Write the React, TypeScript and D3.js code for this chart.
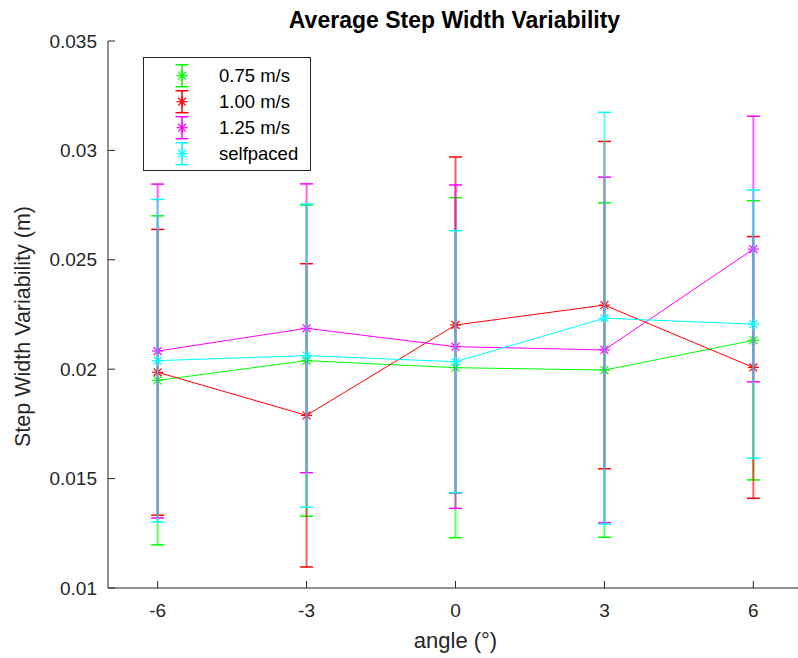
import React from "react";
import * as d3 from "d3";

const angles = [-6, -3, 0, 3, 6];
const seriesNames = ["0.75 m/s", "1.00 m/s", "1.25 m/s", "selfpaced"];
const seriesColors = ["#00ff00", "#ff0000", "#ff00ff", "#00ffff"];
const mean075 = [0.01949, 0.02039, 0.02007, 0.01996, 0.02132];
const err075 = [0.00752, 0.00711, 0.00777, 0.00764, 0.00638];
const mean100 = [0.01986, 0.01789, 0.02202, 0.02293, 0.02008];
const err100 = [0.00653, 0.00693, 0.00768, 0.00748, 0.00598];
const mean125 = [0.02083, 0.02187, 0.02103, 0.02088, 0.02549];
const err125 = [0.00763, 0.0066, 0.00739, 0.0079, 0.00607];
const meanSelf = [0.02039, 0.02062, 0.02034, 0.02233, 0.02206];
const errSelf = [0.00737, 0.00693, 0.00599, 0.00941, 0.00613];
const xTicks = [-6, -3, 0, 3, 6];
const yTicks = [0.01, 0.015, 0.02, 0.025, 0.03, 0.035];
const yTickLabels = ["0.01", "0.015", "0.02", "0.025", "0.03", "0.035"];

const means = [mean075, mean100, mean125, meanSelf];
const errs = [err075, err100, err125, errSelf];

const W = 798;
const H = 658;
const FONT = "'Liberation Sans', Arial, Helvetica, sans-serif";
const AX = "#262626";

function Asterisk({ cx, cy, r, color }: { cx: number; cy: number; r: number; color: string }) {
  const d = r * 0.72;
  return (
    <g stroke={color} strokeWidth={1.2}>
      <line x1={cx - r} y1={cy} x2={cx + r} y2={cy} />
      <line x1={cx} y1={cy - r} x2={cx} y2={cy + r} />
      <line x1={cx - d} y1={cy - d} x2={cx + d} y2={cy + d} />
      <line x1={cx - d} y1={cy + d} x2={cx + d} y2={cy - d} />
    </g>
  );
}

export default function App() {
  const x = d3.scaleLinear().domain([-7, 7]).range([108, 803]);
  const y = d3.scaleLinear().domain([0.01, 0.035]).range([588, 41]);
  const line = d3
    .line<number>()
    .x((_, i) => x(angles[i]))
    .y((v) => y(v));
  const capHalf = 6.5;

  return (
    <svg
      width={W}
      height={H}
      style={{ position: "absolute", left: 0, top: 0, background: "#fff" }}
      fontFamily={FONT}
    >
      <rect x={0} y={0} width={W} height={H} fill="#fff" />
      {means.map((m, si) => {
        const c = seriesColors[si];
        return (
          <g key={si}>
            {m.map((v, i) => {
              const cx = x(angles[i]);
              const lo = y(v - errs[si][i]);
              const hi = y(v + errs[si][i]);
              return (
                <g key={i}>
                  <line x1={cx} x2={cx} y1={lo} y2={hi} stroke={c} strokeWidth={2} strokeOpacity={0.63} />
                  <line x1={cx - capHalf} x2={cx + capHalf} y1={lo} y2={lo} stroke={c} strokeWidth={1.5} />
                  <line x1={cx - capHalf} x2={cx + capHalf} y1={hi} y2={hi} stroke={c} strokeWidth={1.5} />
                </g>
              );
            })}
            <path d={line(m) || ""} fill="none" stroke={c} strokeWidth={1} />
            {m.map((v, i) => (
              <Asterisk key={"m" + i} cx={x(angles[i])} cy={y(v)} r={5.5} color={c} />
            ))}
          </g>
        );
      })}

      <line x1={108} x2={108} y1={y(0.035)} y2={y(0.01)} stroke={AX} strokeWidth={1} />
      <line x1={108} x2={W} y1={y(0.01)} y2={y(0.01)} stroke={AX} strokeWidth={1} />
      {yTicks.map((t, i) => (
        <g key={"yt" + i}>
          <line x1={108} x2={115} y1={y(t)} y2={y(t)} stroke={AX} />
          <text x={97} y={y(t)} dy="0.35em" textAnchor="end" fontSize={19} fill={AX}>
            {yTickLabels[i]}
          </text>
        </g>
      ))}
      {xTicks.map((t) => (
        <g key={"xt" + t}>
          <line x1={x(t)} x2={x(t)} y1={y(0.01)} y2={y(0.01) - 7} stroke={AX} />
          <text x={x(t)} y={y(0.01) + 29} textAnchor="middle" fontSize={19} fill={AX}>
            {t}
          </text>
        </g>
      ))}
      <text x={x(0)} y={648} textAnchor="middle" fontSize={22} fill={AX}>
        angle (°)
      </text>
      <text
        transform={`translate(30, ${(y(0.01) + y(0.035)) / 2 + 12}) rotate(-90)`}
        textAnchor="middle"
        fontSize={21.5}
        fill={AX}
      >
        Step Width Variability (m)
      </text>
      <text x={x(0) - 1} y={28} textAnchor="middle" fontSize={23} fontWeight="bold" fill="#000">
        Average Step Width Variability
      </text>

      <rect x={143.5} y={57.5} width={167} height={113} fill="#fff" stroke={AX} strokeWidth={1} />
      {seriesNames.map((n, i) => {
        const cy = 75.7 + i * 26;
        const c = seriesColors[i];
        return (
          <g key={"lg" + i}>
            <line x1={182} x2={182} y1={cy - 11} y2={cy + 11} stroke={c} strokeWidth={1.5} />
            <line x1={175.5} x2={188.5} y1={cy - 11} y2={cy - 11} stroke={c} strokeWidth={1.5} />
            <line x1={175.5} x2={188.5} y1={cy + 11} y2={cy + 11} stroke={c} strokeWidth={1.5} />
            <Asterisk cx={182} cy={cy} r={5.5} color={c} />
            <text x={219} y={cy} dy="0.35em" fontSize={18.5} fill="#000">
              {n}
            </text>
          </g>
        );
      })}
    </svg>
  );
}
